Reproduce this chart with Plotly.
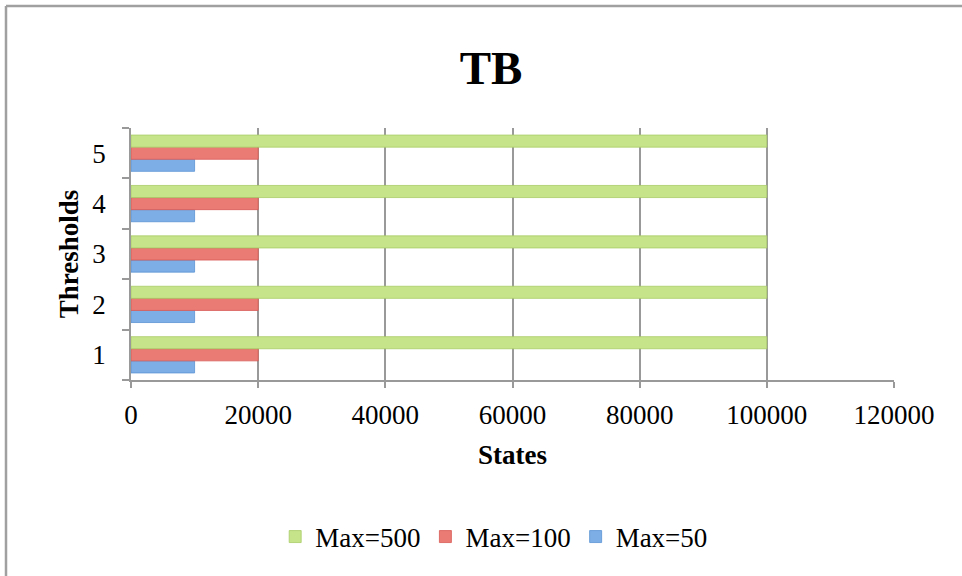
import plotly.graph_objects as go

# Data
thresholds = ["1", "2", "3", "4", "5"]
series_names = ["Max=50", "Max=100", "Max=500"]
max50_states = [10000, 10000, 10000, 10000, 10000]
max100_states = [20000, 20000, 20000, 20000, 20000]
max500_states = [100000, 100000, 100000, 100000, 100000]
x_ticks = [0, 20000, 40000, 60000, 80000, 100000, 120000]

colors = ["#7eaee6", "#ea7a74", "#c6e48a"]
edge_colors = ["#5b93d3", "#d85a55", "#a8cc66"]

W, H = 962, 576
L, R, T, B = 131, 68, 128, 196
font_family = "Liberation Serif, DejaVu Serif, serif"

fig = go.Figure()
for name, vals, c, ec in zip(series_names, [max50_states, max100_states, max500_states], colors, edge_colors):
    fig.add_trace(go.Bar(
        y=thresholds, x=vals, name=name, orientation="h",
        marker=dict(color=c, line=dict(color=ec, width=0.8)),
    ))

# outer frame (top and left edges visible)
pw, ph = W - L - R, H - T - B
fx0 = (6 - L) / pw
fy1 = (H - B - 6) / ph
fig.add_shape(type="line", xref="paper", yref="paper", x0=fx0, x1=(W + 10 - L) / pw,
              y0=fy1, y1=fy1, line=dict(color="#a0a0a0", width=2.5))
fig.add_shape(type="line", xref="paper", yref="paper", x0=fx0, x1=fx0,
              y0=fy1, y1=(H - B - (H + 10)) / ph, line=dict(color="#a0a0a0", width=2.5))

fig.update_layout(
    width=W, height=H,
    margin=dict(l=L, r=R, t=T, b=B),
    paper_bgcolor="white", plot_bgcolor="white",
    barmode="group", bargap=0.28, bargroupgap=0,
    font=dict(family=font_family, color="black", size=27),
    title=dict(text="<b>TB</b>", x=(491 - L) / pw, xref="paper", xanchor="center",
               y=1 - 68 / H, yanchor="middle", font=dict(size=47)),
    legend=dict(orientation="h", traceorder="reversed", x=0.476, xanchor="center",
                y=(H - B - 537) / ph, yanchor="middle", yref="paper",
                font=dict(size=27), itemwidth=30, tracegroupgap=0),
    xaxis=dict(range=[0, 120000], tickvals=x_ticks, ticktext=[str(v) for v in x_ticks],
               showgrid=True, gridcolor="#999999", gridwidth=1.5,
               showline=True, linecolor="#999999", linewidth=1.5,
               ticks="outside", ticklen=6, tickcolor="#999999", tickwidth=1.5,
               zeroline=False, tickfont=dict(size=27), ticklabelstandoff=4,
               title=dict(text="<b>States</b>", font=dict(size=27), standoff=16)),
    yaxis=dict(categoryorder="array", categoryarray=thresholds,
               showline=True, linecolor="#999999", linewidth=1.5,
               ticks="outside", ticklen=7, tickcolor="#999999", tickwidth=1.5,
               tickson="boundaries", showgrid=False, tickfont=dict(size=27),
               ticklabelstandoff=18,
               title=dict(text="<b>Thresholds</b>", font=dict(size=27), standoff=6)),
    showlegend=True,
)

fig.write_html("out.html")
